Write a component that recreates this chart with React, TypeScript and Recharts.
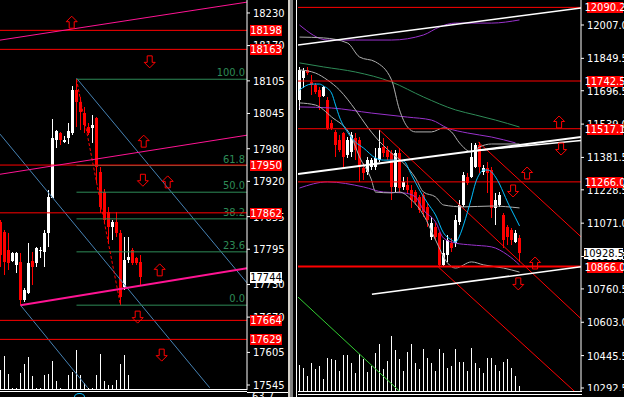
import React from "react";
import { Bar, ComposedChart, Line, ReferenceDot, ReferenceLine, XAxis, YAxis } from "recharts";

const FONT = '"Liberation Sans Narrow", "Arial Narrow", "DejaVu Sans Condensed", sans-serif';

type Pt = [number, number];

// ---------- left pane (index) ----------
const leftOpen = [17845, 17827, 17794, 17773, 17766, 17772, 17702, 17714, 17773, 17770, 17792, 17790, 17825, 17889, 17996, 18009, 17992, 18000, 18009, 18088, 18066, 18046, 18020, 18018, 18037, 17937, 17900, 17864, 17836, 17845, 17825, 17725, 17775, 17793, 17779, 17772];
const leftHigh = [17849, 17830, 17825, 17790, 17790, 17788, 17724, 17806, 17790, 17799, 17799, 17830, 17904, 18035, 18015, 18011, 18003, 18027, 18096, 18108, 18075, 18057, 18027, 18042, 18038, 17947, 17905, 17873, 17849, 17864, 17830, 17818, 17818, 17797, 17781, 17785];
const leftLow = [17762, 17748, 17757, 17772, 17751, 17692, 17698, 17712, 17729, 17762, 17779, 17762, 17799, 17889, 17981, 17987, 17991, 17989, 18005, 18020, 18015, 18009, 18004, 17991, 17917, 17863, 17840, 17807, 17812, 17818, 17692, 17720, 17770, 17766, 17766, 17729];
const leftClose = [17784, 17772, 17770, 17788, 17788, 17702, 17720, 17770, 17762, 17797, 17794, 17825, 17891, 18000, 18013, 17996, 17996, 18013, 18088, 18066, 18048, 18024, 18009, 18024, 17946, 17872, 17848, 17836, 17845, 17825, 17707, 17775, 17781, 17770, 17770, 17744];
const leftVolume = [20, 34, 16, 2, 2, 17, 26, 33, 14, 2, 2, 15, 16, 29, 9, 2, 1, 15, 18, 40, 15, 7, 2, 2, 15, 36, 9, 5, 5, 10, 26, 35, 15, 1, 1, 1];
const leftTicks = [18230, 18170, 18105, 18045, 17980, 17920, 17855, 17795, 17730, 17670, 17605, 17545];
const leftRedLevels = [18198, 18163, 17950, 17862, 17664, 17629];
const leftLast = 17744;
const fibTop = 18108;
const fibBottom = 17692;
const fibStartIndex = 19;
const fibLevels = [100, 61.8, 50, 38.2, 23.6, 0];
const leftPinkLines: Pt[][] = [
  [[-0.125, 18180], [61.625, 18250]],
  [[-0.125, 17933], [61.625, 18005]],
];
const leftPinkSupport: Pt[] = [[5, 17692], [61.625, 17760]];
const leftBlueLines: Pt[][] = [
  [[-0.125, 18007], [52.3, 17540]],
  [[19, 18110], [61.625, 17733]],
  [[5, 17692], [21.8, 17540]],
];
const leftZigzag: Pt[] = [[19, 18108], [30, 17692]];
const leftUpArrows: Pt[] = [[17.8, 18213], [35.8, 17994], [41.8, 17919], [39.8, 17757]];
const leftDownArrows: Pt[] = [[37.3, 18140], [35.6, 17922], [34.3, 17670], [40.3, 17600]];
const subWindowLabel = "63.7";

// ---------- right pane ----------
const rightOpen = [11653, 11757, 11795, 11738, 11724, 11700, 11672, 11653, 11544, 11502, 11464, 11497, 11393, 11407, 11473, 11464, 11332, 11313, 11336, 11336, 11369, 11431, 11417, 11402, 11242, 11402, 11242, 11251, 11228, 11218, 11195, 11204, 11147, 11006, 11053, 11025, 10874, 10921, 10977, 10977, 11077, 11157, 11289, 11289, 11336, 11440, 11313, 11332, 11322, 11143, 11157, 11110, 11053, 11039, 10982, 11001];
const rightHigh = [11809, 11804, 11809, 11771, 11733, 11714, 11719, 11667, 11558, 11511, 11488, 11502, 11478, 11502, 11497, 11478, 11355, 11384, 11379, 11426, 11511, 11473, 11436, 11417, 11417, 11426, 11289, 11289, 11251, 11228, 11204, 11214, 11166, 11100, 11072, 11029, 10992, 11015, 11001, 11110, 11181, 11313, 11308, 11450, 11450, 11454, 11346, 11360, 11336, 11214, 11218, 11119, 11062, 11048, 11039, 11015];
const rightLow = [11606, 11709, 11771, 11676, 11681, 11606, 11667, 11511, 11511, 11384, 11407, 11336, 11379, 11384, 11369, 11266, 11275, 11299, 11322, 11322, 11360, 11384, 11369, 11181, 11218, 11214, 11228, 11214, 11143, 11157, 11119, 11100, 11053, 10992, 10992, 10864, 10864, 10888, 10935, 10959, 11062, 11148, 11251, 11284, 11332, 11308, 11299, 11214, 11096, 11062, 11148, 10954, 10968, 10968, 10977, 10888];
const rightClose = [11795, 11790, 11780, 11724, 11691, 11667, 11714, 11521, 11521, 11440, 11417, 11384, 11464, 11488, 11417, 11336, 11308, 11369, 11369, 11379, 11426, 11402, 11384, 11242, 11402, 11237, 11266, 11228, 11181, 11171, 11133, 11124, 11086, 11072, 11006, 10874, 10930, 10992, 10954, 11086, 11157, 11299, 11261, 11384, 11440, 11336, 11332, 11308, 11143, 11181, 11204, 10992, 11006, 10992, 11025, 10930];
const rightVolume = [26, 23, 15, 28, 22, 25, 12, 33, 32, 31, 20, 36, 36, 28, 18, 37, 32, 19, 25, 38, 47, 22, 30, 55, 41, 32, 20, 39, 47, 28, 22, 42, 33, 28, 20, 42, 38, 23, 25, 42, 29, 29, 20, 43, 28, 23, 18, 33, 33, 26, 20, 29, 32, 23, 15, 5];
const rightTicks = [12007.0, 11849.5, 11696.5, 11539.0, 11381.5, 11228.5, 11071.0, 10913.5, 10760.5, 10603.0, 10445.5, 10292.5];
const rightRedLevels = [12090.2, 11742.5, 11517.1, 11266.0, 10866.0];
const rightLast = 10928.5;

const fastMA: Pt[] = [[0, 11700], [3, 11728], [5, 11728], [6, 11719], [8, 11686], [9, 11629], [10, 11572], [12, 11501], [14, 11454], [16, 11426], [19, 11379], [21, 11369], [23, 11369], [26, 11365], [28, 11299], [30, 11228], [32, 11166], [34, 11110], [36, 11025], [38, 10992], [39, 10982], [40, 11010], [41, 11062], [42, 11124], [43, 11190], [44, 11261], [45, 11303], [46, 11322], [47, 11322], [48, 11313], [49, 11289], [50, 11256], [51, 11214], [52, 11171], [53, 11133], [54, 11096], [55, 11058]];
const slowMA: Pt[] = [[0, 11828], [6, 11809], [14, 11785], [23, 11738], [31, 11667], [39, 11606], [44, 11582], [49, 11558], [55, 11525]];
const envUpper: Pt[] = [[0, 12007], [7, 11936], [14, 11936], [23, 11936], [31, 11960], [35, 11998], [39, 12016], [48, 12016], [55, 12031]];
const envMiddle: Pt[] = [[0, 11620], [8, 11615], [18, 11591], [27, 11572], [33, 11558], [37, 11520], [42, 11497], [48, 11478], [54, 11450]];
const envLower: Pt[] = [[0, 11237], [7, 11266], [16, 11242], [21, 11218], [26, 11214], [29, 11195], [31, 11133], [34, 11077], [36, 11001], [39, 10977], [43, 10968], [48, 10959], [52, 10921], [55, 10874]];
const bandUpper: Pt[] = [[0, 11950], [6, 11946], [12, 11922], [15, 11856], [19, 11833], [23, 11748], [25, 11606], [27, 11525], [29, 11502], [33, 11502], [36, 11521], [38, 11502], [40, 11450], [43, 11407], [45, 11431], [48, 11445], [55, 11445]];
const bandMiddle: Pt[] = [[0, 11795], [4, 11780], [7, 11747], [10, 11700], [14, 11606], [17, 11525], [19, 11478], [23, 11402], [26, 11355], [29, 11284], [31, 11218], [34, 11195], [36, 11157], [41, 11148], [48, 11152], [55, 11143]];
const bandLower: Pt[] = [[0, 11639], [4, 11629], [8, 11573], [13, 11478], [15, 11384], [18, 11275], [19, 11218], [23, 11214], [25, 11218], [28, 11181], [31, 11110], [34, 10992], [37, 10883], [39, 10859], [43, 10888], [46, 10874], [51, 10859], [55, 10840]];

const rightRedChannel: Pt[][] = [
  [[20, 11511], [70.7, 10614]],
  [[44.7, 11454], [70.7, 11001]],
  [[34.7, 10864], [68.9, 10274]],
];
const rightWhiteLines: Pt[][] = [
  [[-0.375, 11913], [70.375, 12087]],
  [[-0.375, 11303], [70.375, 11478]],
  [[44.4, 11414], [70.375, 11462]],
  [[18.1, 10735], [70.375, 10865]],
];
const rightGreenLine: Pt[] = [[-0.375, 10722], [25.2, 10274]];
const rightUpArrows: Pt[] = [[64.9, 11549], [56.9, 11308], [58.9, 10883]];
const rightDownArrows: Pt[] = [[65.4, 11421], [53.4, 11223], [54.7, 10784]];

// ---------- helpers ----------
function buildRows(o: number[], h: number[], l: number[], c: number[], v: number[], extra: Record<string, Pt[]> = {}) {
  return o.map((open, i) => {
    const row: any = { i, o: open, h: h[i], l: l[i], c: c[i], range: [l[i], h[i]], vol: v[i] };
    Object.keys(extra).forEach((k) => {
      const hit = extra[k].find((p) => p[0] === i);
      row[k] = hit ? hit[1] : null;
    });
    return row;
  });
}

function Candle(props: any) {
  const { x, y, width, height, payload } = props;
  if (x == null || !payload) return null;
  const top = Math.min(y, y + height);
  const hgt = Math.abs(height);
  const { o, h, l, c } = payload;
  const span = h - l || 1;
  const py = (val: number) => top + ((h - val) / span) * hgt;
  const wx = Math.round(x + width / 2 - 0.5);
  const col = c >= o ? "#ffffff" : "#ff0000";
  const bTop = Math.round(py(Math.max(o, c)));
  const bBot = Math.round(py(Math.min(o, c)));
  return (
    <g shapeRendering="crispEdges">
      <rect x={wx} y={Math.round(top)} width={1} height={Math.max(Math.round(hgt), 1)} fill={col} />
      <rect x={wx - 1} y={bTop} width={3} height={Math.max(bBot - bTop, 1)} fill={col} />
    </g>
  );
}

function VolumeBar(props: any) {
  const { x, y, width, height } = props;
  if (x == null || !height) return null;
  const top = Math.min(y, y + height);
  return (
    <rect x={Math.round(x + width / 2 - 0.5)} y={Math.round(top)} width={1} height={Math.round(Math.abs(height))} fill="#ffffff" shapeRendering="crispEdges" />
  );
}

function Arrow({ cx, cy, up }: { cx: number; cy: number; up: boolean }) {
  const s = up ? 1 : -1;
  const pts = [[0, -6], [5.5, -0.5], [2.5, -0.5], [2.5, 6], [-2.5, 6], [-2.5, -0.5], [-5.5, -0.5]]
    .map(([dx, dy]) => `${cx + dx},${cy + dy * s}`)
    .join(" ");
  return <polygon points={pts} fill="none" stroke="#ff0000" strokeWidth={1} />;
}

function Tag(props: any) {
  const { viewBox, text, bg, fg, w, gap } = props;
  if (!viewBox) return null;
  const x0 = viewBox.x + viewBox.width + gap;
  const yc = Math.round(viewBox.y);
  return (
    <g>
      <rect x={x0} y={yc - 5} width={w} height={11} fill={bg} />
      <text x={x0 + w / 2} y={yc + 4} textAnchor="middle" fill={fg} fontSize={11} fontFamily={FONT}>
        {text}
      </text>
    </g>
  );
}

function FibText(props: any) {
  const { viewBox, text } = props;
  if (!viewBox) return null;
  return (
    <text x={viewBox.x + viewBox.width - 2} y={viewBox.y - 3} textAnchor="end" fill="#2e8b57" fontSize={11} fontFamily={FONT}>
      {text}
    </text>
  );
}

const axisProps = {
  yAxisId: "p",
  orientation: "right" as const,
  width: 43,
  interval: 0 as const,
  tickSize: 3,
  tickMargin: 3,
  axisLine: { stroke: "#ffffff" },
  tickLine: { stroke: "#ffffff" },
  tick: { fill: "#ffffff", fontSize: 11, fontFamily: FONT },
  allowDataOverflow: true,
};

// same geometry as the pane, but only the price tags (drawn on top of the tick labels)
const overlayAxisProps = {
  yAxisId: "p",
  orientation: "right" as const,
  width: 43,
  tick: false,
  tickLine: false,
  axisLine: false,
  allowDataOverflow: true,
};

function seg(pts: Pt[], color: string, width: number, key: string, dash?: string) {
  return (
    <ReferenceLine
      key={key}
      xAxisId="a"
      yAxisId="p"
      segment={[{ x: pts[0][0], y: pts[0][1] }, { x: pts[1][0], y: pts[1][1] }]}
      stroke={color}
      strokeWidth={width}
      strokeDasharray={dash}
      ifOverflow="hidden"
    />
  );
}

function arrows(list: Pt[], up: boolean, key: string) {
  return list.map((p, k) => (
    <ReferenceDot
      key={key + k}
      xAxisId="a"
      yAxisId="p"
      x={p[0]}
      y={p[1]}
      r={6}
      ifOverflow="visible"
      shape={(sp: any) => <Arrow cx={sp.cx} cy={sp.cy} up={up} />}
    />
  ));
}

const leftRows = buildRows(leftOpen, leftHigh, leftLow, leftClose, leftVolume);
const leftX = [-0.125, 61.625];
const leftY = [17535.8, 18253.9];
const LEFT_H = 390;

function LeftPane() {
  return (
    <ComposedChart width={290} height={LEFT_H} data={leftRows} margin={{ top: 0, right: 0, bottom: 0, left: 0 }}>
      <XAxis xAxisId="a" type="number" dataKey="i" domain={leftX} hide allowDataOverflow />
      <XAxis xAxisId="v" type="number" dataKey="i" domain={leftX} hide allowDataOverflow />
      <YAxis {...axisProps} domain={leftY} ticks={leftTicks} />
      <YAxis yAxisId="v" domain={[0, LEFT_H]} hide />
      <Bar xAxisId="v" yAxisId="v" dataKey="vol" barSize={1} shape={<VolumeBar />} isAnimationActive={false} />
      {leftBlueLines.map((s, k) => seg(s, "#4682b4", 1, "b" + k))}
      {fibLevels.map((lv) => {
        const price = fibBottom + ((fibTop - fibBottom) * lv) / 100;
        return (
          <ReferenceLine
            key={"f" + lv}
            xAxisId="a"
            yAxisId="p"
            segment={[{ x: fibStartIndex, y: price }, { x: leftX[1], y: price }]}
            stroke="#2e8b57"
            ifOverflow="hidden"
            label={<FibText text={lv.toFixed(1)} />}
          />
        );
      })}
      {leftRedLevels.map((lv) => (
        <ReferenceLine key={"r" + lv} xAxisId="a" yAxisId="p" y={lv} stroke="#ff0000" />
      ))}
      {seg(leftZigzag, "#ff0000", 1, "zz", "3 2")}
      <Bar xAxisId="a" yAxisId="p" dataKey="range" barSize={3} shape={<Candle />} isAnimationActive={false} />
      {leftPinkLines.map((s, k) => seg(s, "#ff1493", 1, "p" + k))}
      {seg(leftPinkSupport, "#ff1493", 2, "ps")}
      {arrows(leftUpArrows, true, "lu")}
      {arrows(leftDownArrows, false, "ld")}
    </ComposedChart>
  );
}

function LeftTags() {
  return (
    <ComposedChart width={290} height={LEFT_H} data={leftRows} margin={{ top: 0, right: 0, bottom: 0, left: 0 }}>
      <XAxis xAxisId="a" type="number" dataKey="i" domain={leftX} hide allowDataOverflow />
      <YAxis {...overlayAxisProps} domain={leftY} />
      {leftRedLevels.map((lv) => (
        <ReferenceLine key={"t" + lv} xAxisId="a" yAxisId="p" y={lv} stroke="none" label={<Tag text={String(lv)} bg="#ff0000" fg="#ffffff" w={32} gap={3} />} />
      ))}
      <ReferenceLine xAxisId="a" yAxisId="p" y={leftLast} stroke="none" label={<Tag text={String(leftLast)} bg="#ffffff" fg="#000000" w={32} gap={3} />} />
    </ComposedChart>
  );
}

const rightRows = buildRows(rightOpen, rightHigh, rightLow, rightClose, rightVolume, {
  fast: fastMA,
  slow: slowMA,
  envU: envUpper,
  envM: envMiddle,
  envL: envLower,
  bU: bandUpper,
  bM: bandMiddle,
  bL: bandLower,
});
const rightX = [-0.375, 70.375];
const rightY = [10278.3, 12125.1];
const RIGHT_H = 391;

function RightPane() {
  const line = (key: string, color: string) => (
    <Line key={key} xAxisId="a" yAxisId="p" dataKey={key} type="monotone" stroke={color} strokeWidth={1} dot={false} connectNulls isAnimationActive={false} />
  );
  return (
    <ComposedChart width={326} height={RIGHT_H} data={rightRows} margin={{ top: 0, right: 0, bottom: 0, left: 0 }}>
      <XAxis xAxisId="a" type="number" dataKey="i" domain={rightX} hide allowDataOverflow />
      <XAxis xAxisId="v" type="number" dataKey="i" domain={rightX} hide allowDataOverflow />
      <YAxis {...axisProps} domain={rightY} ticks={rightTicks} tickFormatter={(v: number) => v.toFixed(1)} />
      <YAxis yAxisId="v" domain={[0, RIGHT_H]} hide />
      <Bar xAxisId="v" yAxisId="v" dataKey="vol" barSize={1} shape={<VolumeBar />} isAnimationActive={false} />
      {seg(rightGreenLine, "#32cd32", 1, "lg")}
      {rightRedChannel.map((s, k) => seg(s, "#ff0000", 1, "rc" + k))}
      {line("slow", "#2e8b57")}
      {line("envU", "#9932cc")}
      {line("envM", "#9932cc")}
      {line("envL", "#9932cc")}
      {line("bU", "#b0b0b0")}
      {line("bM", "#b0b0b0")}
      {line("bL", "#b0b0b0")}
      {rightRedLevels.map((lv) => (
        <ReferenceLine key={"r" + lv} xAxisId="a" yAxisId="p" y={lv} stroke="#ff0000" strokeWidth={lv === 10866 ? 2 : 1} />
      ))}
      <Bar xAxisId="a" yAxisId="p" dataKey="range" barSize={3} shape={<Candle />} isAnimationActive={false} />
      {line("fast", "#00bfff")}
      {rightWhiteLines.map((s, k) => seg(s, "#ffffff", k === 1 ? 2 : 1.5, "w" + k))}
      {arrows(rightUpArrows, true, "ru")}
      {arrows(rightDownArrows, false, "rd")}
    </ComposedChart>
  );
}

function RightTags() {
  return (
    <ComposedChart width={326} height={RIGHT_H} data={rightRows} margin={{ top: 0, right: 0, bottom: 0, left: 0 }}>
      <XAxis xAxisId="a" type="number" dataKey="i" domain={rightX} hide allowDataOverflow />
      <YAxis {...overlayAxisProps} domain={rightY} />
      {rightRedLevels.map((lv) => (
        <ReferenceLine key={"t" + lv} xAxisId="a" yAxisId="p" y={lv} stroke="none" label={<Tag text={lv.toFixed(1)} bg="#ff0000" fg="#ffffff" w={36} gap={6} />} />
      ))}
      <ReferenceLine xAxisId="a" yAxisId="p" y={rightLast} stroke="none" label={<Tag text={rightLast.toFixed(1)} bg="#ffffff" fg="#000000" w={39} gap={3} />} />
    </ComposedChart>
  );
}

const layer = (left: number): React.CSSProperties => ({ position: "absolute", left, top: 0 });

export default function App() {
  return (
    <div style={{ position: "absolute", left: 0, top: 0, width: 624, height: 397, background: "#000", overflow: "hidden" }}>
      <div style={layer(0)}>
        <LeftPane />
      </div>
      <div style={{ ...layer(0), pointerEvents: "none" }}>
        <LeftTags />
      </div>
      <div style={{ position: "absolute", left: 0, top: 389, width: 247, height: 1, background: "#fff" }} />
      <div style={{ position: "absolute", left: 0, top: 391, width: 247, height: 1, background: "#fff" }} />
      <div style={{ position: "absolute", left: 247, top: 392, width: 41, height: 1, background: "#fff" }} />
      <div style={{ position: "absolute", left: 74, top: 393, width: 11, height: 8, border: "1px solid #00bfff", borderRadius: "50%", boxSizing: "border-box" }} />
      <div style={{ position: "absolute", left: 252, top: 391, color: "#fff", fontSize: 11, lineHeight: "11px", fontFamily: FONT }}>{subWindowLabel}</div>
      <div style={{ position: "absolute", left: 288, top: 0, width: 2, height: 397, background: "#d4d0c8" }} />
      <div style={{ position: "absolute", left: 290, top: 0, width: 3, height: 397, background: "#808080" }} />
      <div style={{ position: "absolute", left: 296, top: 0, width: 1, height: 397, background: "#ffffff" }} />
      <div style={layer(298)}>
        <RightPane />
      </div>
      <div style={{ ...layer(298), pointerEvents: "none" }}>
        <RightTags />
      </div>
      <div style={{ position: "absolute", left: 298, top: 391, width: 284, height: 1, background: "#fff" }} />
      <div style={{ position: "absolute", left: 298, top: 394, width: 284, height: 1, background: "#fff" }} />
    </div>
  );
}
